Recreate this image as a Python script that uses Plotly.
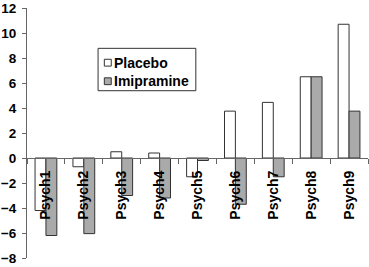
import plotly.graph_objects as go

categories = ["Psych1", "Psych2", "Psych3", "Psych4", "Psych5", "Psych6", "Psych7", "Psych8", "Psych9"]
placebo = [-4.2, -0.7, 0.5, 0.4, -1.5, 3.75, 4.45, 6.5, 10.7]
imipramine = [-6.2, -6.05, -3.0, -3.2, -0.2, -3.7, -1.5, 6.5, 3.75]
y_ticks = [-8, -6, -4, -2, 0, 2, 4, 6, 8, 10, 12]
series_names = ["Placebo", "Imipramine"]
series_colors = ["white", "#aaaaaa"]

FONT = "Arial, 'Liberation Sans', sans-serif"
AXIS = "#666666"
EDGE = "#333333"

fig = go.Figure()
for name, vals, col in zip(series_names, [placebo, imipramine], series_colors):
    fig.add_trace(go.Bar(x=categories, y=vals, name=name, showlegend=False,
                         marker=dict(color=col, line=dict(color=EDGE, width=1))))

ymin, ymax = -8, 12
W, H = 369, 267
L, R, T, B = 24, 1, 6, 5
pw, ph = W - L - R, H - T - B


def px(x):
    return (x - L) / pw


def py(y):
    return (H - B - y) / ph


# legend box (drawn manually to match the compact original layout)
shapes = [dict(type="rect", xref="paper", yref="paper",
               x0=px(95.7), x1=px(194.3), y0=py(90.7), y1=py(47.3),
               line=dict(color=EDGE, width=1), fillcolor="white", layer="above")]
annotations = []
rows = [62, 81]
for name, col, yc in zip(series_names, series_colors, rows):
    shapes.append(dict(type="rect", xref="paper", yref="paper",
                       x0=px(102), x1=px(109), y0=py(yc + 3.5), y1=py(yc - 3.5),
                       line=dict(color=EDGE, width=1), fillcolor=col, layer="above"))
    annotations.append(dict(text=name, xref="paper", yref="paper", x=px(109.5), y=py(yc),
                            xanchor="left", yanchor="middle", showarrow=False,
                            font=dict(family=FONT, size=14, color="black", weight="bold")))

fig.update_layout(
    width=W, height=H,
    margin=dict(l=L, r=R, t=T, b=B),
    paper_bgcolor="white", plot_bgcolor="white",
    barmode="group", bargap=0.425, bargroupgap=0,
    font=dict(family=FONT, size=13, color="black"),
    showlegend=False,
    shapes=shapes, annotations=annotations,
    xaxis=dict(type="category", anchor="free", position=(0 - ymin) / (ymax - ymin),
               showline=True, linecolor=AXIS, linewidth=1,
               ticks="outside", ticklen=5, tickcolor=AXIS, tickson="boundaries",
               tickangle=-90, showgrid=False, zeroline=False, ticklabelstandoff=6,
               tickfont=dict(size=14, family=FONT, color="black", weight="bold")),
    yaxis=dict(range=[ymin, ymax], tickvals=y_ticks, showline=True, linecolor=AXIS,
               linewidth=1, ticks="outside", ticklen=4, tickcolor=AXIS,
               showgrid=False, zeroline=False, ticklabeloverflow="allow",
               ticklabelstandoff=3,
               tickfont=dict(size=13.5, family=FONT, color="black", weight="bold")),
)

fig.write_html("out.html")
